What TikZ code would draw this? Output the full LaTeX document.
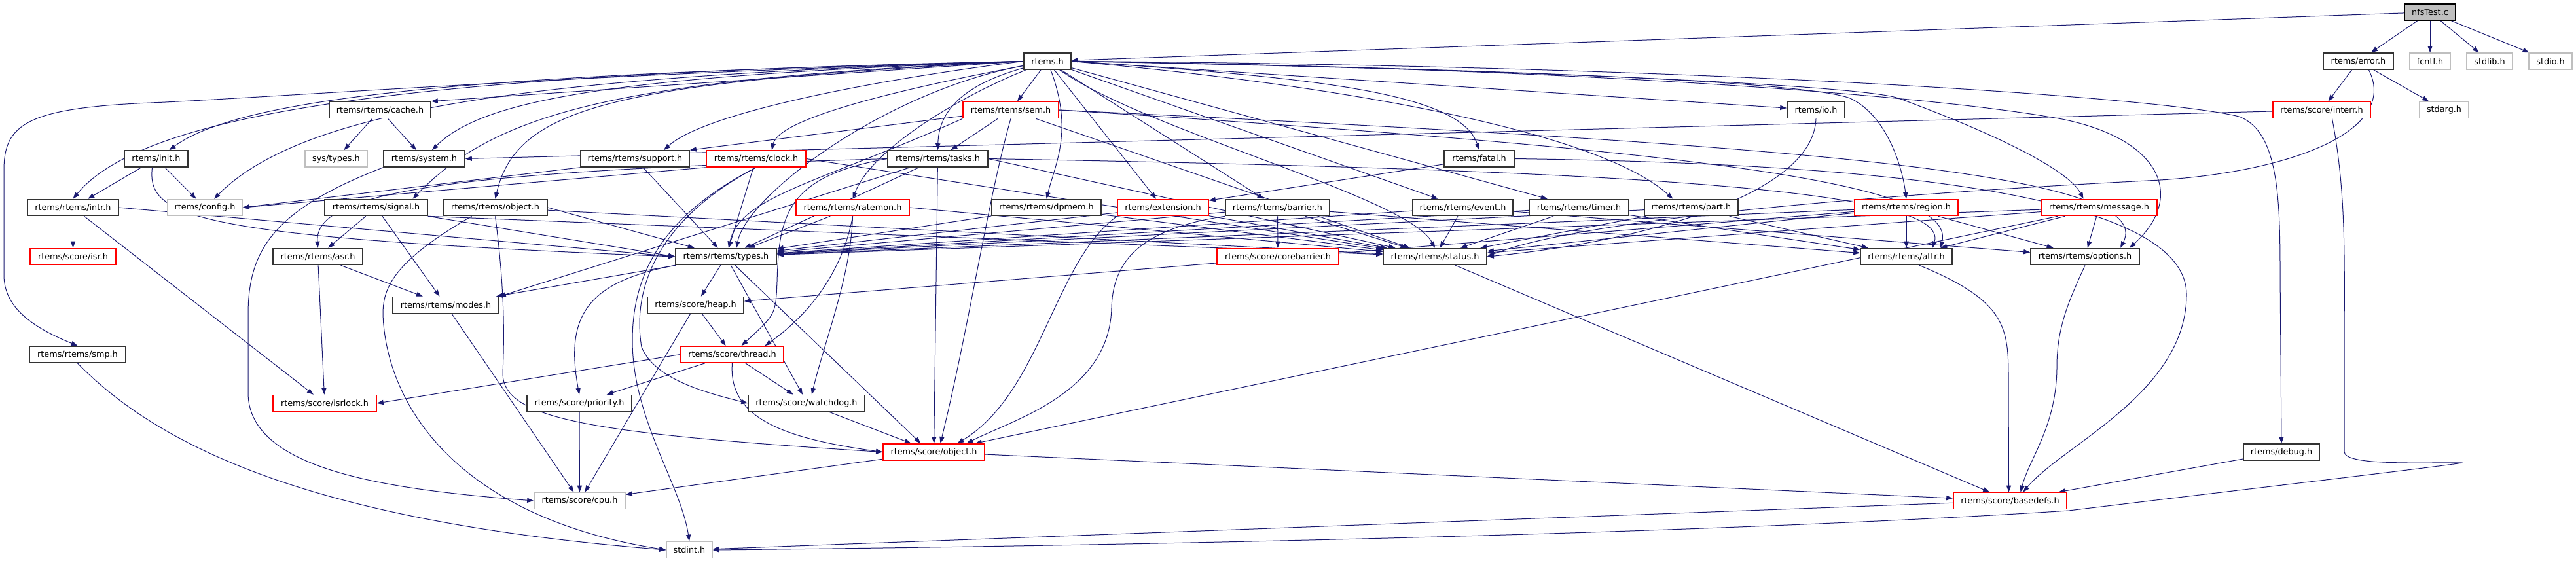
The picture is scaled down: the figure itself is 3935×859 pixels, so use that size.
\documentclass[tikz,border=0pt]{standalone}
\usepackage{fontspec}
\newfontfamily\doxfont{DejaVu Sans}
\usetikzlibrary{arrows.meta, backgrounds}
\definecolor{edgeblue}{HTML}{191970}
\definecolor{sysgray}{HTML}{BFBFBF}

\begin{document}
\begin{tikzpicture}[x=0.5pt, y=-0.5pt,
    hdr/.style={draw=black!80, line width=0.8pt, fill=white, minimum height=12.5pt, inner sep=0pt,
      font=\doxfont\fontsize{6.4pt}{7.5pt}\selectfont},
    trunc/.style={hdr, draw=red},
    syshdr/.style={hdr, draw=sysgray},
    srcfile/.style={hdr, fill=sysgray, draw=black},
    dep/.style={edgeblue, line width=0.5pt, -{Triangle[length=5pt, width=3.6pt]}}]
\useasboundingbox (0,0) rectangle (3935,859);

% row 0 and 1
\node[srcfile, minimum width=39pt] (nfs) at (3712,18.5) {nfsTest.c};
\node[hdr, minimum width=36pt] (rtems) at (1600,93.5) {rtems.h};
\node[hdr, minimum width=53.5pt] (error) at (3602.5,93.5) {rtems/error.h};
\node[syshdr, minimum width=31pt] (fcntl) at (3712,93.5) {fcntl.h};
\node[syshdr, minimum width=35pt] (stdlib) at (3803,93.5) {stdlib.h};
\node[syshdr, minimum width=33pt] (stdio) at (3896,93.5) {stdio.h};
% row 2
\node[hdr, minimum width=77.5pt] (cache) at (580.5,168) {rtems/rtems/cache.h};
\node[trunc, minimum width=73pt] (sem) at (1544,168) {rtems/rtems/sem.h};
\node[hdr, minimum width=44pt] (io) at (2774,168) {rtems/io.h};
\node[trunc, minimum width=74.5pt] (interr) at (3546.5,168) {rtems/score/interr.h};
\node[syshdr, minimum width=37.5pt] (stdarg) at (3733.5,168) {stdarg.h};
% row 3
\node[hdr, minimum width=48.5pt] (init) at (238.5,242.5) {rtems/init.h};
\node[syshdr, minimum width=47.5pt] (systypes) at (513.5,242.5) {sys/types.h};
\node[hdr, minimum width=62pt] (system) at (648,242.5) {rtems/system.h};
\node[hdr, minimum width=83pt] (support) at (970,242.5) {rtems/rtems/support.h};
\node[trunc, minimum width=76pt] (clock) at (1155,242.5) {rtems/rtems/clock.h};
\node[hdr, minimum width=76.5pt] (tasks) at (1432.5,242.5) {rtems/rtems/tasks.h};
\node[hdr, minimum width=53.5pt] (fatal) at (2259.5,242.5) {rtems/fatal.h};
% row 4
\node[hdr, minimum width=69.5pt] (intr) at (111.5,317) {rtems/rtems/intr.h};
\node[syshdr, minimum width=57pt] (config) at (313,317) {rtems/config.h};
\node[hdr, minimum width=78.5pt] (signal) at (574.5,317) {rtems/rtems/signal.h};
\node[hdr, minimum width=79.5pt] (robject) at (756.5,317) {rtems/rtems/object.h};
\node[trunc, minimum width=86.5pt] (ratemon) at (1302.5,317) {rtems/rtems/ratemon.h};
\node[hdr, minimum width=83.5pt] (dpmem) at (1598.5,317) {rtems/rtems/dpmem.h};
\node[trunc, minimum width=69.5pt] (extension) at (1776.5,317) {rtems/extension.h};
\node[hdr, minimum width=79.5pt] (barrier) at (1951.5,317) {rtems/rtems/barrier.h};
\node[hdr, minimum width=76.5pt] (event) at (2234.5,317) {rtems/rtems/event.h};
\node[hdr, minimum width=76pt] (timer) at (2412,317) {rtems/rtems/timer.h};
\node[hdr, minimum width=71.5pt] (part) at (2583.5,317) {rtems/rtems/part.h};
\node[trunc, minimum width=79pt] (region) at (2912,317) {rtems/rtems/region.h};
\node[trunc, minimum width=88.5pt] (message) at (3206.5,317) {rtems/rtems/message.h};
% row 5
\node[trunc, minimum width=65.5pt] (isr) at (111.5,392) {rtems/score/isr.h};
\node[hdr, minimum width=68.5pt] (asr) at (485.5,392) {rtems/rtems/asr.h};
\node[hdr, minimum width=77pt] (types) at (1109,392) {rtems/rtems/types.h};
\node[trunc, minimum width=93pt] (corebarrier) at (1952,392) {rtems/score/corebarrier.h};
\node[hdr, minimum width=79pt] (status) at (2192,392) {rtems/rtems/status.h};
\node[hdr, minimum width=70pt] (attr) at (2912,392) {rtems/rtems/attr.h};
\node[hdr, minimum width=83pt] (options) at (3185,392) {rtems/rtems/options.h};
% rows 6 to 11
\node[hdr, minimum width=81pt] (modes) at (681,466) {rtems/rtems/modes.h};
\node[hdr, minimum width=73.5pt] (heap) at (1062.5,466) {rtems/score/heap.h};
\node[hdr, minimum width=73.5pt] (smp) at (118.5,541.5) {rtems/rtems/smp.h};
\node[trunc, minimum width=78.5pt] (thread) at (1118.5,541.5) {rtems/score/thread.h};
\node[trunc, minimum width=79pt] (isrlock) at (496,616) {rtems/score/isrlock.h};
\node[hdr, minimum width=80pt] (priority) at (885,616) {rtems/score/priority.h};
\node[hdr, minimum width=89pt] (watchdog) at (1232,616) {rtems/score/watchdog.h};
\node[trunc, minimum width=77.5pt] (sobject) at (1426.5,690.5) {rtems/score/object.h};
\node[hdr, minimum width=58pt] (debug) at (3485,690.5) {rtems/debug.h};
\node[syshdr, minimum width=69.5pt] (cpu) at (885.5,765) {rtems/score/cpu.h};
\node[trunc, minimum width=86.5pt] (basedefs) at (3070.5,765) {rtems/score/basedefs.h};
\node[syshdr, minimum width=35pt] (stdint) at (1053,840) {stdint.h};

\begin{scope}[on background layer]
% nfsTest.c and rtems/error.h
\draw[dep] (nfs) -- (rtems);
\draw[dep] (nfs) -- (error);
\draw[dep] (nfs) -- (fcntl);
\draw[dep] (nfs) -- (stdlib);
\draw[dep] (nfs) -- (stdio);
\draw[dep] (error) -- (interr);
\draw[dep] (error) -- (stdarg);
\draw[dep] ([xshift=8pt]error.south) .. controls (3665,200) and (3500,262) .. (3300,275) .. controls (2800,300) and (2400,340) .. (status.east);
\draw[dep] (interr) -- (system.east);
\draw[dep] ([xshift=8pt]interr.south) .. controls (3585,300) and (3581,400) .. (3581,550) -- (3581,690) .. controls (3581,712) and (3700,706) .. (3762,707) .. controls (3700,716) and (3450,745) .. (3160,780) .. controls (2700,810) and (1900,832) .. (stdint.east);

% rtems.h
\draw[dep] (rtems.west) .. controls (900,112) and (400,150) .. (230,157) .. controls (40,165) and (6,190) .. (6,260) -- (6,420) .. controls (6,470) and (50,500) .. (smp.north);
\draw[dep] (rtems.west) .. controls (700,112) and (230,160) .. (intr.north);
\draw[dep] (rtems.west) .. controls (800,112) and (380,140) .. ([xshift=10pt]init.north);
\draw[dep] (rtems.west) .. controls (850,115) and (470,160) .. ([xshift=7pt]config.north);
\draw[dep] (rtems.west) -- (cache.north east);
\draw[dep] (rtems.west) .. controls (950,115) and (740,150) .. ([xshift=6pt]system.north);
\draw[dep] (rtems.west) .. controls (950,120) and (760,170) .. ([xshift=28pt]signal.north);
\draw[dep] (rtems.west) .. controls (950,125) and (790,160) .. (robject.north);
\draw[dep] (rtems.west) .. controls (1350,120) and (1080,170) .. ([xshift=22pt]support.north);
\draw[dep] (rtems) .. controls (1380,135) and (1190,180) .. ([xshift=12pt]clock.north);
\draw[dep] (rtems) .. controls (1470,130) and (1434,170) .. (tasks.north);
\draw[dep] (rtems) -- (sem);
\draw[dep] (rtems) .. controls (1460,150) and (1330,230) .. (ratemon.north);
\draw[dep] (rtems) .. controls (1640,200) and (1612,250) .. (dpmem.north);
\draw[dep] (rtems) -- (extension);
\draw[dep] (rtems) -- (barrier);
\draw[dep] (rtems) -- (event);
\draw[dep] (rtems) -- (timer);
\draw[dep] (rtems.east) .. controls (2050,130) and (2440,200) .. ([xshift=-14pt]part.north);
\draw[dep] (rtems.east) .. controls (2000,118) and (2230,140) .. (fatal.north);
\draw[dep] (rtems.east) -- (io);
\draw[dep] (rtems.east) .. controls (2300,105) and (2760,125) .. (2826,150) .. controls (2880,175) and (2905,250) .. (region.north);
\draw[dep] (rtems.east) .. controls (2400,108) and (2850,132) .. (2900,150) .. controls (3050,205) and (3160,260) .. ([xshift=-12pt]message.north);
\draw[dep] (rtems.east) .. controls (2400,104) and (2950,145) .. (3150,182) .. controls (3300,212) and (3340,300) .. ([xshift=34pt]options.north);
\draw[dep] (rtems.east) .. controls (2600,100) and (3300,148) .. (3420,178) .. controls (3480,200) and (3483,300) .. (3483,420) -- (debug.north);
\draw[dep] (rtems) .. controls (1750,200) and (2150,300) .. (status.north);
\draw[dep] (rtems) .. controls (1350,140) and (1140,300) .. ([xshift=8pt]types.north);

% left part
\draw[dep] (cache) -- (systypes);
\draw[dep] (cache) -- (system);
\draw[dep] (init) -- (intr);
\draw[dep] (init) -- (config);
\draw[dep] ([xshift=-3pt]init.south) .. controls (225,330) and (280,362) .. (types.west);
\draw[dep] (system.south west) .. controls (420,320) and (379,380) .. (379,480) -- (379,600) .. controls (379,720) and (600,748) .. (cpu.west);
\draw[dep] (intr) -- (isr);
\draw[dep] (intr) -- (isrlock);
\draw[dep] (intr.east) -- (types.west);
\draw[dep] (signal) -- (asr);
\draw[dep] (signal) -- (modes);
\draw[dep] (signal.south east) -- (types.west);
\draw[dep] (signal.south east) -- (status);
\draw[dep] (robject.east) -- (types);
\draw[dep] (robject) -- (status);
\draw[dep] (robject.south) .. controls (772,450) and (770,520) .. (768,570) .. controls (768,640) and (900,662) .. (sobject.west);
\draw[dep] ([xshift=-18pt]robject.south) .. controls (600,400) and (585,440) .. (585,480) .. controls (590,620) and (700,790) .. (stdint.west);
\draw[dep] (asr) -- (isrlock);
\draw[dep] (asr) -- (modes);
\draw[dep] (modes) -- (cpu);
\draw[dep] (smp.south) .. controls (260,700) and (520,800) .. (stdint.west);
\draw[dep] (support.south west) -- (config.east);
\draw[dep] (support) -- (types);

% rtems/rtems/clock.h, tasks.h, sem.h
\draw[dep] (clock.south west) -- (config.east);
\draw[dep] (clock) -- (types);
\draw[dep] (clock.east) -- (status);
\draw[dep] (clock.south) .. controls (1005,335) and (965,440) .. (980,530) .. controls (1000,580) and (1080,600) .. (watchdog.west);
\draw[dep] (clock.south) .. controls (1010,330) and (966,420) .. (966,520) .. controls (966,640) and (1040,740) .. (stdint.north);
\draw[dep] (tasks) -- (types);
\draw[dep] (tasks.west) .. controls (700,262) and (480,290) .. (asr.north);
\draw[dep] (tasks) -- (modes.north east);
\draw[dep] (tasks.west) .. controls (1200,270) and (1190,330) .. (1187,430) .. controls (1185,480) .. ([xshift=7pt]thread.north);
\draw[dep] (tasks) -- (sobject);
\draw[dep] (tasks.east) -- (status);
\draw[dep] (tasks.east) .. controls (2500,260) and (2980,290) .. ([xshift=20pt]attr.north);
\draw[dep] (sem) -- (support.north east);
\draw[dep] (sem) -- (tasks);
\draw[dep] (sem.south west) .. controls (1250,280) and (1130,300) .. ([xshift=2pt]types.north);
\draw[dep] (sem.south) .. controls (1510,300) and (1480,500) .. ([xshift=5pt]sobject.north);
\draw[dep] (sem) -- (status);
\draw[dep] (sem.east) .. controls (2600,230) and (2990,280) .. ([xshift=26pt]attr.north);
\draw[dep] (sem.east) .. controls (2700,220) and (3300,260) .. ([xshift=27pt]options.north);

% row of rtems/rtems headers
\draw[dep] (ratemon) -- (types);
\draw[dep] (ratemon.south) .. controls (1290,400) and (1250,470) .. ([xshift=25pt]thread.north);
\draw[dep] (ratemon.south) .. controls (1300,420) and (1260,520) .. ([xshift=4pt]watchdog.north);
\draw[dep] (ratemon.east) -- (status);
\draw[dep] (dpmem) -- (types);
\draw[dep] (dpmem) -- (status);
\draw[dep] (extension) -- (types);
\draw[dep] (extension) -- (status);
\draw[dep] (extension.south west) .. controls (1610,400) and (1590,600) .. ([xshift=18pt]sobject.north);
\draw[dep] (barrier) -- (types);
\draw[dep] (barrier) -- (status);
\draw[dep] (barrier) -- (corebarrier);
\draw[dep] (barrier) -- (attr);
\draw[dep] (barrier.south west) .. controls (1740,350) and (1700,400) .. (1698,470) .. controls (1695,600) and (1550,640) .. ([xshift=25pt]sobject.north);
\draw[dep] (event) -- (types);
\draw[dep] (event) -- (status);
\draw[dep] (event) -- (options);
\draw[dep] (timer) -- (types);
\draw[dep] (timer) -- (status);
\draw[dep] (timer) -- (attr);
\draw[dep] (part) -- (types);
\draw[dep] (part) -- (status);
\draw[dep] (part) -- (attr);
\draw[dep] (region) -- (types);
\draw[dep] (region) -- (status);
\draw[dep] (region) -- (attr);
\draw[dep] (region) -- (options);
\draw[dep] (region) -- (heap);
\draw[dep] (message) -- (types);
\draw[dep] (message) -- (status);
\draw[dep] (message) -- (attr);
\draw[dep] (message) -- (options);
\draw[dep] (message) -- (sobject);
\draw[dep] (fatal) -- (extension);
\draw[dep] (fatal.east) .. controls (2900,250) and (3340,300) .. (3340,450) .. controls (3340,600) and (3150,680) .. ([xshift=10pt]basedefs.north);
\draw[dep] (io.south) .. controls (2770,300) and (2500,370) .. (status.east);

% score headers
\draw[dep] (types) -- (heap);
\draw[dep] (types) -- (modes);
\draw[dep] (types.south west) .. controls (900,430) and (862,480) .. (priority.north);
\draw[dep] (types) -- ([xshift=-3pt]watchdog.north);
\draw[dep] (types) -- ([xshift=-10pt]sobject.north);
\draw[dep] (heap) -- (thread);
\draw[dep] (heap) -- (cpu);
\draw[dep] (thread) -- (priority);
\draw[dep] (thread) -- (watchdog);
\draw[dep] (thread.south) .. controls (1112,640) and (1200,670) .. (sobject.west);
\draw[dep] (thread.west) -- (isrlock.east);
\draw[dep] (watchdog) -- (sobject);
\draw[dep] (priority) -- (cpu);
\draw[dep] (sobject) -- (cpu);
\draw[dep] (sobject) -- (basedefs);
\draw[dep] (status) -- (basedefs);
\draw[dep] ([xshift=10pt]attr.south) .. controls (3065,460) and (3068,500) .. (3068,580) -- ([xshift=-1pt]basedefs.north);
\draw[dep] (options.south) .. controls (3160,460) and (3142,500) .. (3142,560) .. controls (3142,650) and (3100,700) .. ([xshift=8pt]basedefs.north);
\draw[dep] (debug) -- (basedefs);
\draw[dep] (basedefs) -- (stdint);
\end{scope}
\end{tikzpicture}
\end{document}
